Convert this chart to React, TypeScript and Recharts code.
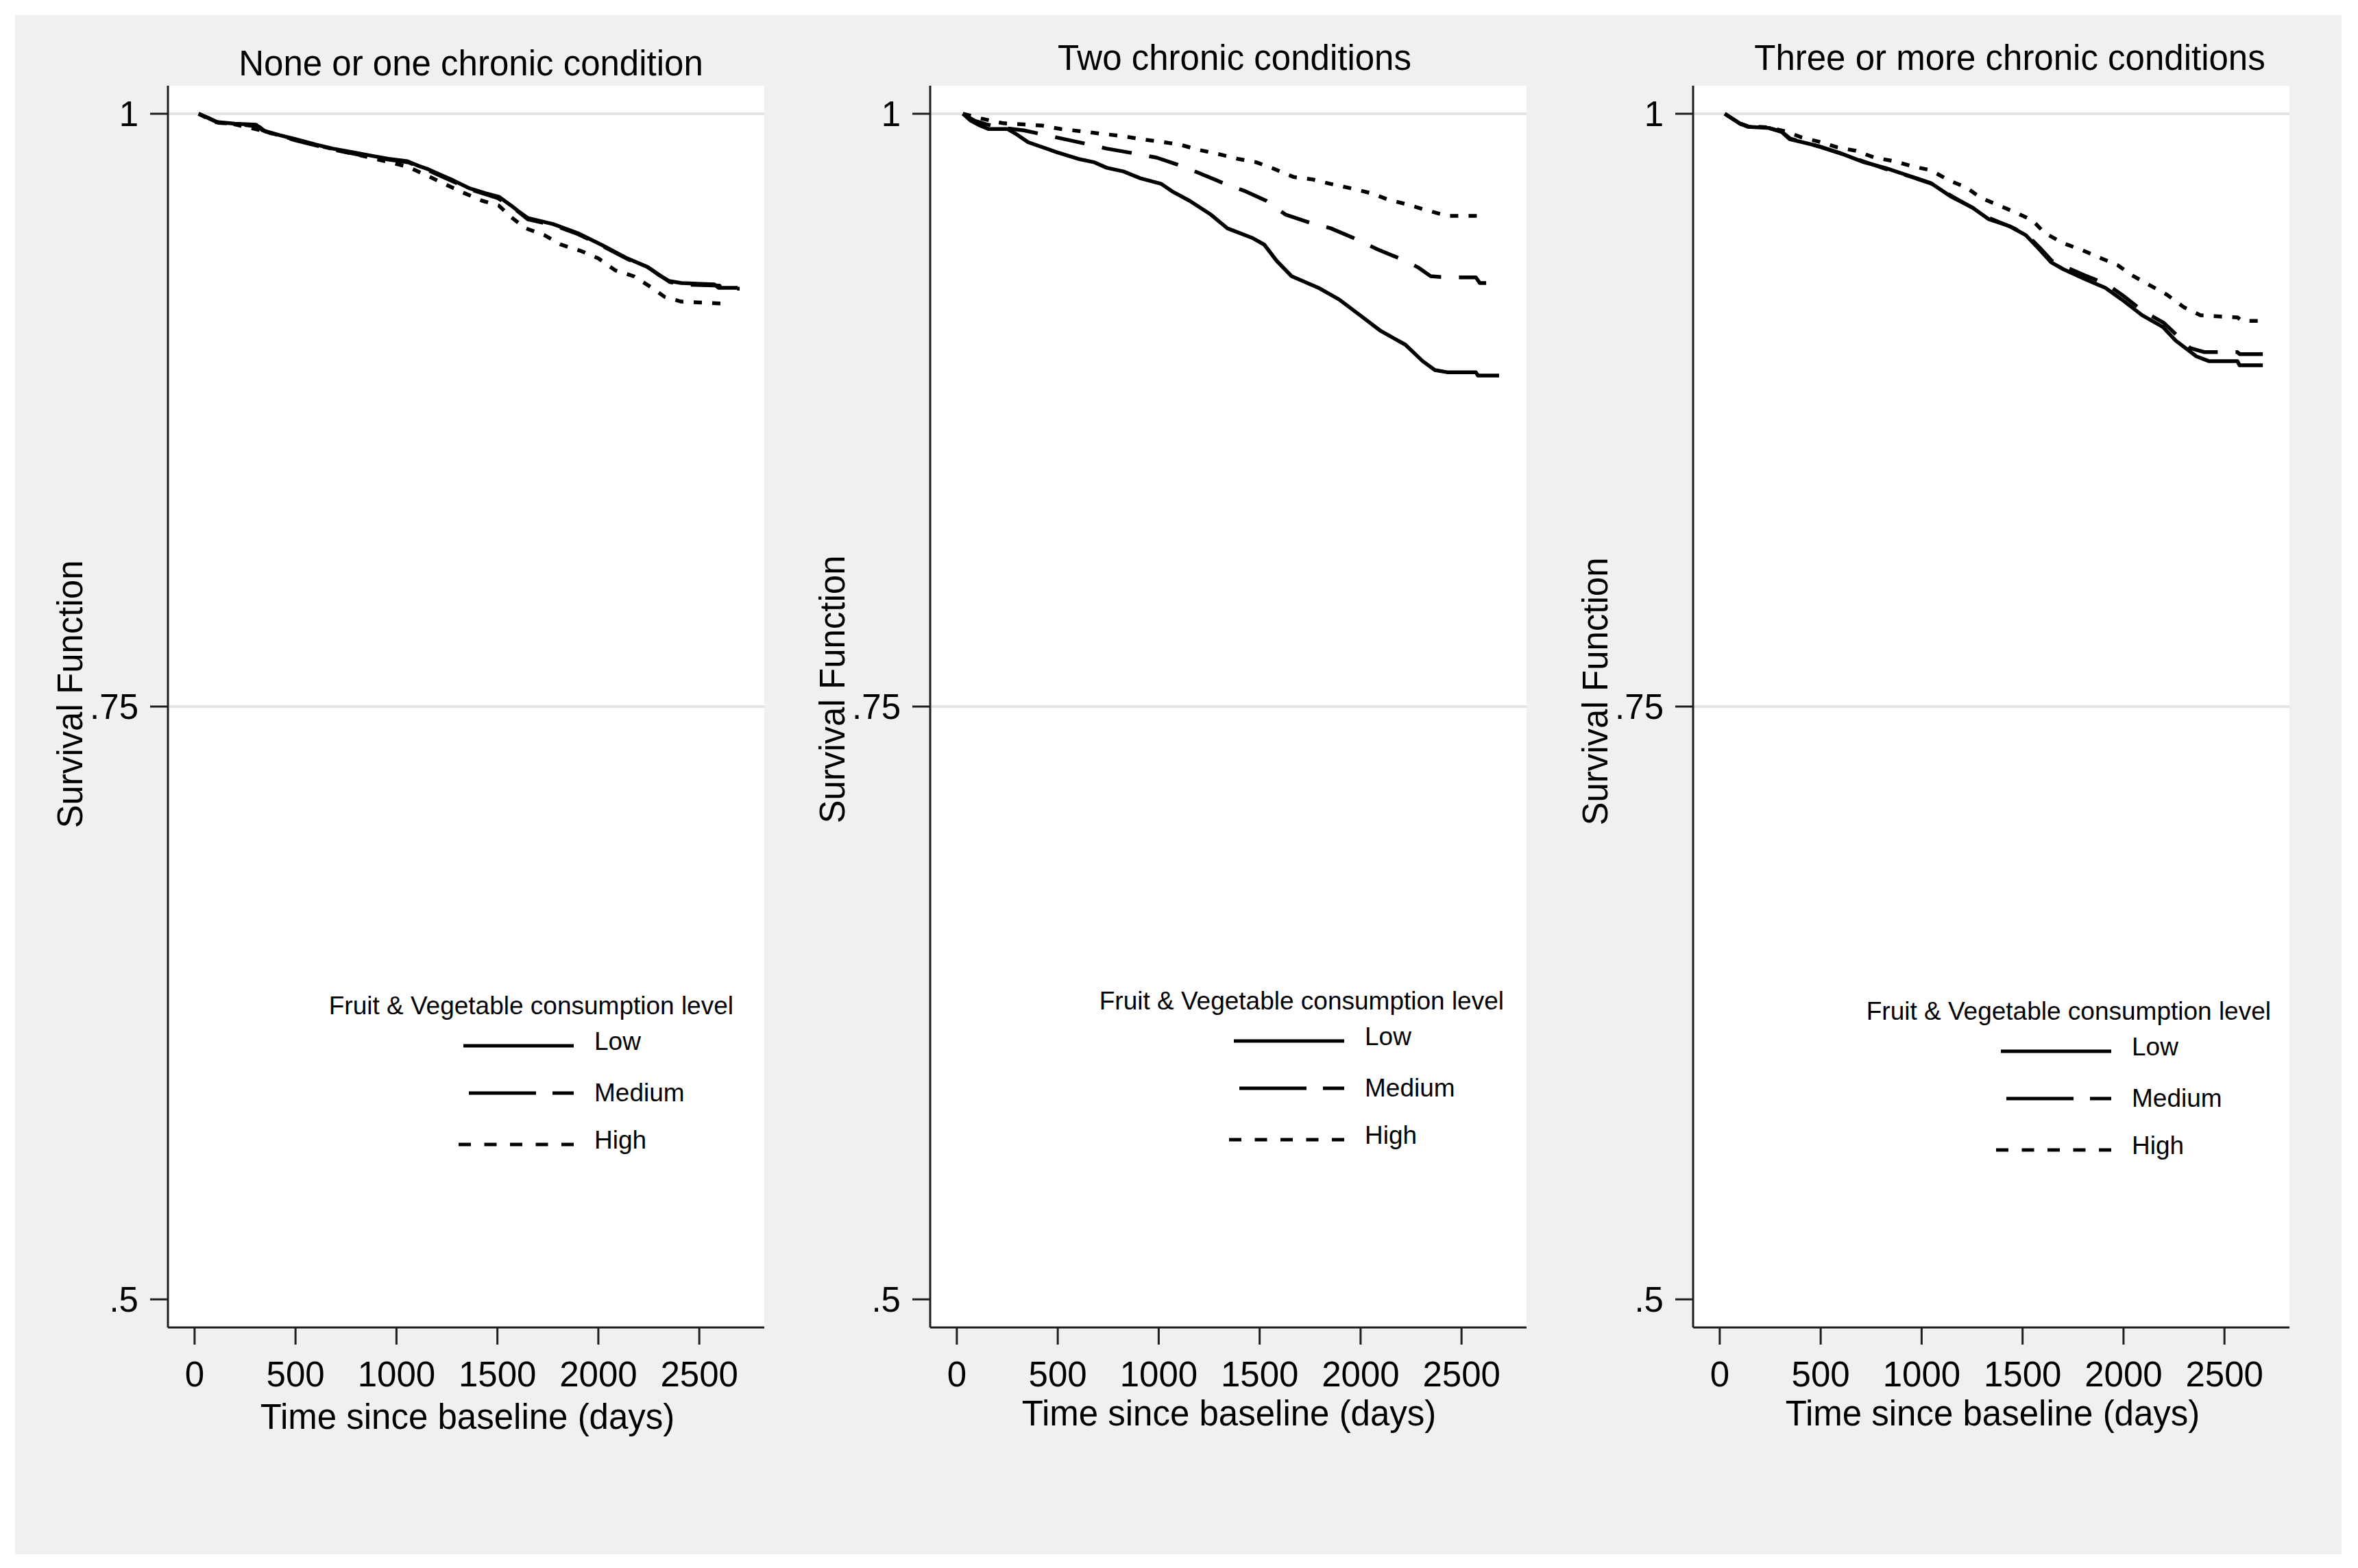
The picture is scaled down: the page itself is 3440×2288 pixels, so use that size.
import React from 'react';
import { LineChart, Line, XAxis, YAxis, CartesianGrid, ReferenceLine, Legend, Label } from 'recharts';

// ---------------- data ----------------
type Pt = [number, number];

const PANEL_TITLES = ['None or one chronic condition', 'Two chronic conditions', 'Three or more chronic conditions'];
const SERIES_NAMES = ['Low', 'Medium', 'High'];
const LEGEND_TITLE = 'Fruit & Vegetable consumption level';
const X_LABEL = 'Time since baseline (days)';
const Y_LABEL = 'Survival Function';
const X_TICKS = [0, 500, 1000, 1500, 2000, 2500];
const Y_TICKS = [0.5, 0.75, 1];
const Y_TICK_LABELS = ['.5', '.75', '1'];
const GRID_VALUES = [0.75, 1];

const P1_LOW: Pt[] = [
  [20, 1.0], [60, 0.9985], [109, 0.9965], [200, 0.9958], [305, 0.9954], [336, 0.993], [420, 0.991], [499, 0.9893],
  [600, 0.987], [685, 0.9853], [780, 0.9838], [869, 0.9824], [960, 0.981], [1054, 0.98], [1110, 0.978], [1157, 0.9766],
  [1220, 0.9742], [1279, 0.972], [1363, 0.9685], [1440, 0.9665], [1507, 0.965], [1568, 0.9613], [1610, 0.9585],
  [1651, 0.956], [1775, 0.9535], [1897, 0.9497], [2021, 0.9445], [2144, 0.939], [2246, 0.9353], [2300, 0.932],
  [2350, 0.9295], [2411, 0.9286], [2575, 0.928], [2595, 0.9266], [2690, 0.9266],
];
const P1_MEDIUM: Pt[] = [
  [20, 1.0], [70, 0.9982], [120, 0.9962], [220, 0.9956], [320, 0.9945], [350, 0.9925], [500, 0.9888], [690, 0.9848],
  [870, 0.9818], [1060, 0.9795], [1160, 0.976], [1280, 0.9715], [1370, 0.968], [1500, 0.9645], [1570, 0.961],
  [1650, 0.9555], [1780, 0.953], [1900, 0.9492], [2020, 0.9442], [2150, 0.9385], [2250, 0.935], [2355, 0.929],
  [2420, 0.928], [2600, 0.9275], [2610, 0.9262], [2700, 0.9262],
];
const P1_HIGH: Pt[] = [
  [20, 1.0], [100, 0.9965], [200, 0.9955], [330, 0.993], [500, 0.989], [690, 0.985], [870, 0.9815], [1054, 0.9777],
  [1157, 0.9737], [1323, 0.967], [1425, 0.9633], [1507, 0.9613], [1568, 0.9564], [1640, 0.9517], [1733, 0.9488],
  [1815, 0.9448], [1918, 0.942], [2000, 0.939], [2083, 0.934], [2175, 0.9315], [2266, 0.9266], [2328, 0.9228],
  [2410, 0.9208], [2595, 0.92], [2630, 0.92],
];

const P2_LOW: Pt[] = [
  [30, 1.0], [70, 0.997], [115, 0.995], [156, 0.9936], [250, 0.9936], [291, 0.9916], [353, 0.988], [495, 0.9838],
  [600, 0.981], [682, 0.9795], [743, 0.9772], [825, 0.9757], [909, 0.9728], [1011, 0.9705], [1072, 0.967],
  [1153, 0.9633], [1258, 0.9575], [1340, 0.9517], [1462, 0.9477], [1523, 0.9448], [1584, 0.938], [1658, 0.9315],
  [1791, 0.9266], [1893, 0.9217], [1998, 0.915], [2100, 0.9084], [2222, 0.9026], [2307, 0.8957], [2368, 0.8919],
  [2429, 0.891], [2571, 0.891], [2581, 0.8896], [2686, 0.8896],
];
const P2_MEDIUM: Pt[] = [
  [30, 1.0], [90, 0.997], [150, 0.9955], [230, 0.994], [332, 0.993], [495, 0.99], [641, 0.9873], [743, 0.9853],
  [865, 0.9835], [990, 0.9815], [1092, 0.9786], [1194, 0.9752], [1319, 0.9708], [1421, 0.9676], [1533, 0.9633],
  [1628, 0.9575], [1750, 0.954], [1852, 0.9517], [1988, 0.9468], [2079, 0.943], [2201, 0.9387], [2283, 0.9353],
  [2347, 0.9315], [2418, 0.931], [2571, 0.931], [2591, 0.9286], [2656, 0.9286],
];
const P2_HIGH: Pt[] = [
  [30, 1.0], [120, 0.998], [229, 0.996], [332, 0.9955], [424, 0.995], [516, 0.99355], [620, 0.99258], [712, 0.99162],
  [814, 0.99066], [918, 0.98921], [1011, 0.98825], [1113, 0.9868], [1194, 0.98487], [1298, 0.98295], [1390, 0.98102],
  [1482, 0.97957], [1574, 0.97668], [1669, 0.97331], [1760, 0.97235], [1852, 0.97043], [1955, 0.9685], [2049, 0.96657],
  [2141, 0.96368], [2232, 0.96176], [2327, 0.95934], [2429, 0.95694], [2622, 0.95694],
];

const P3_LOW: Pt[] = [
  [25, 1.0], [98, 0.996], [139, 0.9945], [244, 0.994], [305, 0.9925], [346, 0.9893], [488, 0.9864], [594, 0.9835],
  [716, 0.9795], [818, 0.9772], [943, 0.9737], [1045, 0.9708], [1147, 0.965], [1252, 0.9604], [1333, 0.9555],
  [1435, 0.9526], [1516, 0.9488], [1581, 0.943], [1642, 0.9373], [1703, 0.9344], [1805, 0.9304], [1910, 0.9266],
  [1991, 0.9217], [2093, 0.915], [2195, 0.9101], [2259, 0.9043], [2361, 0.8977], [2422, 0.8957], [2564, 0.8957],
  [2575, 0.8939], [2690, 0.8939],
];
const P3_MEDIUM: Pt[] = [
  [25, 1.0], [100, 0.9958], [140, 0.9946], [250, 0.9938], [310, 0.9922], [350, 0.9895], [490, 0.9862], [600, 0.9832],
  [720, 0.9797], [820, 0.9768], [945, 0.9735], [1050, 0.9705], [1150, 0.9652], [1255, 0.9602], [1335, 0.956],
  [1440, 0.9524], [1520, 0.949], [1585, 0.9435], [1645, 0.938], [1710, 0.9355], [1810, 0.9318], [1915, 0.9282],
  [1995, 0.9235], [2095, 0.9168], [2200, 0.9118], [2265, 0.9065], [2330, 0.9012], [2400, 0.8995], [2564, 0.8995],
  [2575, 0.8986], [2690, 0.8986],
];
const P3_HIGH: Pt[] = [
  [25, 1.0], [98, 0.996], [139, 0.9948], [244, 0.9942], [330, 0.9925], [407, 0.99], [490, 0.98825], [582, 0.98584],
  [675, 0.98439], [767, 0.9815], [860, 0.98006], [963, 0.97765], [1045, 0.9762], [1137, 0.97187], [1220, 0.96898],
  [1292, 0.96464], [1385, 0.96127], [1466, 0.95838], [1549, 0.95501], [1610, 0.94971], [1703, 0.94538],
  [1795, 0.94249], [1888, 0.93911], [1970, 0.93622], [2042, 0.93189], [2123, 0.92803], [2215, 0.9237],
  [2299, 0.9184], [2381, 0.91503], [2566, 0.91407], [2586, 0.91263], [2669, 0.91263],
];

const PANEL_SERIES: Pt[][][] = [
  [P1_LOW, P1_MEDIUM, P1_HIGH],
  [P2_LOW, P2_MEDIUM, P2_HIGH],
  [P3_LOW, P3_MEDIUM, P3_HIGH],
];

// ---------------- layout / style ----------------
const FONT = '"Liberation Sans", Arial, Helvetica, sans-serif';
const FS = 51;
const LEG_FS = 37;
const PAGE_W = 3440;
const PAGE_H = 2288;
const BG = { left: 22, top: 22, right: 3416, bottom: 2268 };
const GREY = '#f0f0f0';
const INK = '#000000';
const AXIS_INK = '#1e1e1e';

const Y_AXIS_W = 245;
const PLOT_TOP = 125;
const PLOT_BOTTOM = 1937;
const PLOT_W = 870;
const RIGHT_PAD = 20;
const CHART_W = Y_AXIS_W + PLOT_W + RIGHT_PAD;
const X_AXIS_H = PAGE_H - PLOT_BOTTOM;
const X_DOMAIN: [number, number] = [-132, 2822];
const Y_DOMAIN: [number, number] = [0.48815, 1.01185];

const AXIS_X = [245, 1357, 2470];
const TITLE_X = [687, 1801, 2932];
const TITLE_BASE = [110, 102, 102];
const XLABEL_DY = [148, 143, 143];
const XLABEL_DX = [2, 1, 2];
const YLABEL_CY = [1013, 1006, 1009];
const YLABEL_BASE_DX = -125;
const LEGEND_END = [837, 1961, 3080];
const LEGEND_BASE = [1480, 1473, 1488];

const CURVE_DASH = [undefined, '44 26', '12 15'];
const LEG_DASH = [undefined, '98 24', '18 19.5'];
const LEG_LEN = [161, 153, 168];
const LEG_LINE_DY = [46, 115, 190];
const LEG_TEXT_DY = [52, 127, 196];

const toRows = (pts: Pt[]) => pts.map(([t, s]) => ({ t, s }));

function makeLegend(i: number, chartLeft: number) {
  return () => {
    const end = LEGEND_END[i] - chartLeft;
    const base = LEGEND_BASE[i];
    return (
      <svg width={CHART_W} height={PAGE_H} style={{ position: 'absolute', left: 0, top: 0, overflow: 'visible' }}>
        <text x={end + 233} y={base} textAnchor="end" fontFamily={FONT} fontSize={LEG_FS} fill={INK}>
          {LEGEND_TITLE}
        </text>
        {SERIES_NAMES.map((name: string, k: number) => (
          <g key={name}>
            <line
              x1={end - LEG_LEN[k]}
              x2={end}
              y1={base + LEG_LINE_DY[k]}
              y2={base + LEG_LINE_DY[k]}
              stroke={INK}
              strokeWidth={5}
              strokeDasharray={LEG_DASH[k]}
            />
            <text x={end + 30} y={base + LEG_TEXT_DY[k]} fontFamily={FONT} fontSize={LEG_FS} fill={INK}>
              {name}
            </text>
          </g>
        ))}
      </svg>
    );
  };
}

function Panel({ i }: { i: number }) {
  const chartLeft = AXIS_X[i] - Y_AXIS_W;
  const series = PANEL_SERIES[i];
  return (
    <div style={{ position: 'absolute', left: chartLeft, top: 0, width: CHART_W, height: PAGE_H }}>
      <LineChart
        width={CHART_W}
        height={PAGE_H}
        margin={{ top: PLOT_TOP, right: RIGHT_PAD, bottom: 0, left: 0 }}
      >
        <CartesianGrid fill="#ffffff" stroke="none" horizontal={false} vertical={false} />
        {GRID_VALUES.map((v) => (
          <ReferenceLine key={v} y={v} stroke="#e4e4e4" strokeWidth={4} />
        ))}
        <XAxis
          dataKey="t"
          type="number"
          domain={X_DOMAIN}
          ticks={X_TICKS}
          allowDataOverflow
          height={X_AXIS_H}
          tickSize={25}
          tickMargin={25}
          axisLine={{ stroke: AXIS_INK, strokeWidth: 3 }}
          tickLine={{ stroke: AXIS_INK, strokeWidth: 3 }}
          tick={{ fill: INK, fontSize: FS, fontFamily: FONT }}
          interval={0}
        >
          <Label
            content={(p: any) => {
              const vb = p.viewBox || {};
              return (
                <text
                  x={vb.x + vb.width / 2 + XLABEL_DX[i]}
                  y={vb.y + XLABEL_DY[i]}
                  textAnchor="middle"
                  fontFamily={FONT}
                  fontSize={FS}
                  fill={INK}
                >
                  {X_LABEL}
                </text>
              );
            }}
          />
        </XAxis>
        <YAxis
          type="number"
          domain={Y_DOMAIN}
          ticks={Y_TICKS}
          allowDataOverflow
          width={Y_AXIS_W}
          tickSize={26}
          tickMargin={17}
          axisLine={{ stroke: AXIS_INK, strokeWidth: 3 }}
          tickLine={{ stroke: AXIS_INK, strokeWidth: 3 }}
          tick={{ fill: INK, fontSize: FS, fontFamily: FONT }}
          tickFormatter={(v: number) => Y_TICK_LABELS[Y_TICKS.indexOf(v)] ?? String(v)}
          interval={0}
        >
          <Label
            content={(p: any) => {
              const vb = p.viewBox || {};
              const bx = vb.x + vb.width + YLABEL_BASE_DX;
              const cy = YLABEL_CY[i];
              return (
                <text
                  x={bx}
                  y={cy}
                  transform={`rotate(-90 ${bx} ${cy})`}
                  textAnchor="middle"
                  fontFamily={FONT}
                  fontSize={FS}
                  fill={INK}
                >
                  {Y_LABEL}
                </text>
              );
            }}
          />
        </YAxis>
        {series.map((pts, k) => (
          <Line
            key={SERIES_NAMES[k]}
            name={SERIES_NAMES[k]}
            data={toRows(pts)}
            dataKey="s"
            type="linear"
            stroke={INK}
            strokeWidth={5.5}
            strokeDasharray={CURVE_DASH[k]}
            strokeLinejoin="round"
            dot={false}
            activeDot={false}
            isAnimationActive={false}
            legendType="line"
          />
        ))}
        <Legend
          layout="horizontal"
          verticalAlign="middle"
          align="center"
          wrapperStyle={{ position: 'absolute', left: 0, top: 0, width: CHART_W, height: PAGE_H, pointerEvents: 'none' }}
          content={makeLegend(i, chartLeft)}
        />
      </LineChart>
    </div>
  );
}

export default function App() {
  return (
    <div style={{ position: 'absolute', left: 0, top: 0, width: PAGE_W, height: PAGE_H, background: '#ffffff', overflow: 'hidden' }}>
      <div
        style={{
          position: 'absolute',
          left: BG.left,
          top: BG.top,
          width: BG.right - BG.left,
          height: BG.bottom - BG.top,
          background: GREY,
        }}
      />
      {[0, 1, 2].map((i) => (
        <Panel key={i} i={i} />
      ))}
      <svg width={PAGE_W} height={PAGE_H} style={{ position: 'absolute', left: 0, top: 0, pointerEvents: 'none' }}>
        {PANEL_TITLES.map((t, i) => (
          <text key={t} x={TITLE_X[i]} y={TITLE_BASE[i]} textAnchor="middle" fontFamily={FONT} fontSize={FS} fill={INK}>
            {t}
          </text>
        ))}
      </svg>
    </div>
  );
}
